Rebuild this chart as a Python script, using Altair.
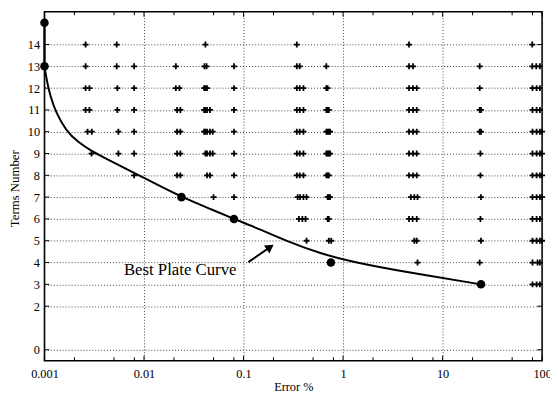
import altair as alt
import pandas as pd

# ---- data ----
row_14 = [0.00259, 0.00532, 0.0414, 0.343, 4.60, 79.6]
row_13 = [0.00259, 0.00532, 0.00796, 0.0209, 0.0405, 0.0425, 0.0802, 0.343, 0.367, 0.679, 4.60, 5.05, 23.6, 79.6, 87.3, 95.0]
row_12 = [0.00259, 0.00283, 0.00540, 0.00796, 0.0209, 0.0227, 0.0402, 0.0414, 0.0430, 0.0802, 0.343, 0.367, 0.400, 0.679, 0.700, 4.60, 5.05, 5.50, 23.6, 80.0, 88.0, 95.0]
row_11 = [0.00259, 0.00283, 0.00540, 0.00796, 0.0215, 0.0232, 0.0402, 0.0414, 0.0430, 0.0460, 0.0802, 0.343, 0.367, 0.400, 0.680, 0.700, 0.720, 4.60, 5.05, 5.50, 23.6, 24.3, 80.0, 88.0, 95.0]
row_10 = [0.00271, 0.00299, 0.00553, 0.00796, 0.0215, 0.0232, 0.0402, 0.0414, 0.0430, 0.0460, 0.0490, 0.0802, 0.343, 0.367, 0.400, 0.680, 0.700, 0.720, 0.740, 4.60, 5.05, 5.50, 23.6, 24.3, 80.0, 88.0, 95.0, 100.0]
row_9 = [0.00297, 0.00553, 0.00796, 0.0215, 0.0232, 0.0414, 0.0430, 0.0460, 0.0490, 0.0802, 0.343, 0.367, 0.400, 0.680, 0.700, 0.720, 0.740, 4.60, 5.05, 5.50, 24.0, 80.0, 88.0, 95.0, 100.0]
row_8 = [0.00796, 0.0215, 0.0232, 0.0430, 0.0460, 0.0802, 0.343, 0.367, 0.400, 0.680, 0.700, 0.720, 4.60, 5.05, 5.50, 24.0, 80.0, 88.0, 95.0, 100.0]
row_7 = [0.0500, 0.0802, 0.350, 0.370, 0.400, 0.430, 0.700, 0.720, 0.740, 4.80, 5.20, 5.60, 24.3, 80.0, 88.0, 95.0, 100.0]
row_6 = [0.360, 0.390, 0.420, 0.700, 0.720, 4.60, 5.00, 5.50, 24.0, 80.0, 88.0, 95.0]
row_5 = [0.430, 0.720, 0.760, 5.20, 5.50, 24.3, 80.0, 88.0, 95.0, 100.0]
row_4 = [5.60, 23.6, 80.0, 90.0, 95.0]
row_3 = [80.0, 88.0, 95.0]

best_x = [0.001, 0.001, 0.0238, 0.0802, 0.755, 24.3]
best_y = [15, 13, 7, 6, 4, 3]

vert_x = [0.001, 0.001]
vert_y = [15, 13]

curve_x = [0.001, 0.00106, 0.00115, 0.00130, 0.00164, 0.00220, 0.00300, 0.00420, 0.0102, 0.0238, 0.0500, 0.0802, 0.129, 0.277, 0.592, 1.26, 4.60, 24.3]
curve_y = [13.0, 12.3, 11.6, 10.9, 10.05, 9.5, 9.1, 8.75, 7.87, 7.0, 6.4, 6.0, 5.63, 4.96, 4.41, 4.02, 3.54, 3.0]

x_labels = [0.001, 0.01, 0.1, 1, 10, 100]
x_minor = [0.002, 0.005, 0.008, 0.02, 0.05, 0.08, 0.2, 0.5, 0.8, 2, 5, 8, 20, 50, 80]
y_ticks = [0, 2, 3, 4, 5, 6, 7, 8, 9, 10, 11, 12, 13, 14]

note_text = ["Best Plate Curve"]
note_x = [0.085]
note_y = [3.66]
arrow_x = [0.112, 0.185]
arrow_y = [4.02, 4.71]

# ---- tables ----
rows = {14: row_14, 13: row_13, 12: row_12, 11: row_11, 10: row_10, 9: row_9,
        8: row_8, 7: row_7, 6: row_6, 5: row_5, 4: row_4, 3: row_3}
markers = pd.DataFrame([{"x": v, "y": k} for k, vals in rows.items() for v in vals])
best = pd.DataFrame({"x": best_x, "y": best_y})
vert = pd.DataFrame({"x": vert_x, "y": vert_y})
curve = pd.DataFrame({"x": curve_x, "y": curve_y})
note = pd.DataFrame({"x": note_x, "y": note_y, "t": note_text})
arrow = pd.DataFrame({"x": arrow_x, "y": arrow_y})
head = arrow.iloc[[-1]]
xmaj = pd.DataFrame({"x": x_labels})
xmin_ = pd.DataFrame({"x": x_minor})
yt = pd.DataFrame({"y": y_ticks})

FONT = "Liberation Serif"
W, H = 505, 354

xscale = alt.Scale(type="log", domain=[0.001, 100], nice=False)
yscale = alt.Scale(domain=[-0.5, 15.5], nice=False, zero=False)

xaxis = alt.Axis(values=x_labels, format="~g", title="Error %", grid=True,
                 ticks=False, domain=False, labelPadding=7, labelFontSize=12.5,
                 labelFont=FONT, labelColor="black", titleFont=FONT, titleFontSize=12.5,
                 titleFontWeight="normal", titleColor="black", titleY=26,
                 titleBaseline="middle", gridColor="#444", gridDash=[1, 2],
                 labelFlush=False, labelOverlap=False)
yaxis = alt.Axis(values=y_ticks, title="Terms Number", grid=True, ticks=False,
                 domain=False, labelPadding=5, labelFontSize=12.5, labelFont=FONT,
                 labelColor="black", titleFont=FONT, titleFontSize=13,
                 titleFontWeight="normal", titleColor="black", titleX=-30, titleY=179,
                 titleAngle=270, titleAlign="center", titleBaseline="middle",
                 gridColor="#444", gridDash=[1, 2], labelFlush=False, labelOverlap=False)

X = alt.X("x:Q", scale=xscale, axis=xaxis)
Y = alt.Y("y:Q", scale=yscale, axis=yaxis)

plus = "M-1,0L1,0M0,-1L0,1"

pts = alt.Chart(markers).mark_point(shape=plus, filled=False, color="black",
                                    strokeWidth=1.8, size=36, opacity=1).encode(x=X, y=Y)
vline = alt.Chart(vert).mark_line(color="black", strokeWidth=2.2).encode(x=X, y=Y)
cline = alt.Chart(curve).mark_line(color="black", strokeWidth=2, interpolate="basis").encode(x=X, y=Y)
dots = alt.Chart(best).mark_circle(color="black", size=75, opacity=1).encode(x=X, y=Y)
txt = alt.Chart(note).mark_text(align="right", baseline="middle", font=FONT,
                                fontSize=17, color="black").encode(x=X, y=Y, text="t:N")
arr = alt.Chart(arrow).mark_line(color="black", strokeWidth=2).encode(x=X, y=Y)
arrh = alt.Chart(head).mark_point(shape="triangle-up", filled=True, color="black",
                                  size=95, angle=55, opacity=1).encode(x=X, y=Y)

tick_l = alt.Chart(yt).mark_rule(color="black", strokeWidth=1).encode(y=Y, x=alt.value(0), x2=alt.value(5))
tick_r = alt.Chart(yt).mark_rule(color="black", strokeWidth=1).encode(y=Y, x=alt.value(W), x2=alt.value(W - 5))
tick_t = alt.Chart(xmaj).mark_rule(color="black", strokeWidth=1).encode(x=X, y=alt.value(0), y2=alt.value(5))
tick_b = alt.Chart(xmaj).mark_rule(color="black", strokeWidth=1).encode(x=X, y=alt.value(H), y2=alt.value(H - 5))
mtick_t = alt.Chart(xmin_).mark_rule(color="black", strokeWidth=1).encode(x=X, y=alt.value(0), y2=alt.value(3.5))
mtick_b = alt.Chart(xmin_).mark_rule(color="black", strokeWidth=1).encode(x=X, y=alt.value(H), y2=alt.value(H - 3.5))

chart = alt.layer(
    tick_l, tick_r, tick_t, tick_b, mtick_t, mtick_b,
    pts, vline, cline, dots, txt, arr, arrh
).properties(
    width=W, height=H,
    autosize=alt.AutoSizeParams(type="none"),
    padding={"left": 37, "top": 1, "right": 8, "bottom": 34},
    background="white",
).configure_view(stroke="black", strokeWidth=1.6)

chart.save("out.html", embed_options={"renderer": "svg", "actions": False})
